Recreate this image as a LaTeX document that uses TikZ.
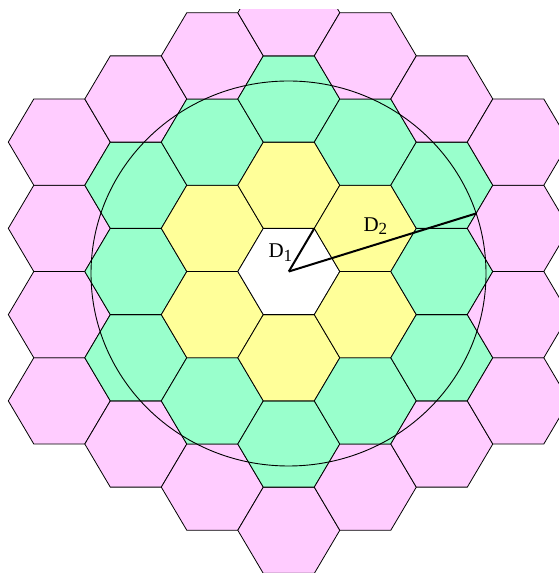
\documentclass[tikz,border=0pt]{standalone}
\usepackage{fontspec}
\setmainfont{Liberation Serif}
\definecolor{hexyellow}{HTML}{FFFF99}
\definecolor{hexgreen}{HTML}{99FFCC}
\definecolor{hexpink}{HTML}{FFCCFF}
\tikzset{
  hexline/.style={draw=black, line width=0.8pt, line join=miter},
  dline/.style={draw=black, line width=2pt},
  ringline/.style={draw=black, line width=0.9pt},
  dlabel/.style={inner sep=0pt, anchor=base west, font=\fontsize{21}{21}\selectfont}
}
\begin{document}
\begin{tikzpicture}[x=1pt,y=1pt]
\useasboundingbox (0,0) rectangle (559,573);
\begin{scope}
\clip (0,0) rectangle (559,563);
\begin{scope}[shift={(288.8,301.5)}, x=51pt, y=49.8pt]
\foreach \q in {-3,...,3}{
  \foreach \r in {-3,...,3}{
    \pgfmathtruncatemacro\dd{max(abs(\q),abs(\r),abs(\q+\r))}
    \ifnum\dd<4
      \pgfmathsetmacro\cx{1.5*\q}
      \pgfmathsetmacro\cy{sqrt(3)*(\r+\q/2)}
      \ifcase\dd \def\hc{white}\or \def\hc{hexyellow}\or \def\hc{hexgreen}\else \def\hc{hexpink}\fi
      \path[hexline, fill=\hc] ({\cx+1},{\cy}) -- ({\cx+0.5},{\cy+0.8660254}) -- ({\cx-0.5},{\cy+0.8660254}) -- ({\cx-1},{\cy}) -- ({\cx-0.5},{\cy-0.8660254}) -- ({\cx+0.5},{\cy-0.8660254}) -- cycle;
    \fi
  }
}
\coordinate (ctr) at (0,0);
\coordinate (v1) at (0.5,0.8660254);
\coordinate (e2) at (3.684,1.169);
\end{scope}
\coordinate (cc) at (288.5,299.5);
\draw[ringline] (cc) ellipse [x radius=197.5, y radius=192.5];
\draw[dline] (ctr) -- (v1);
\draw[dline] (ctr) -- (e2);
\end{scope}
\node[dlabel] (l1) at (268.3,315.7) {D\raisebox{-4.4pt}{\fontsize{17}{17}\selectfont 1}};
\node[dlabel] (l2) at (363.3,341.3) {D\raisebox{-3.3pt}{\fontsize{17}{17}\selectfont 2}};
\end{tikzpicture}
\end{document}
